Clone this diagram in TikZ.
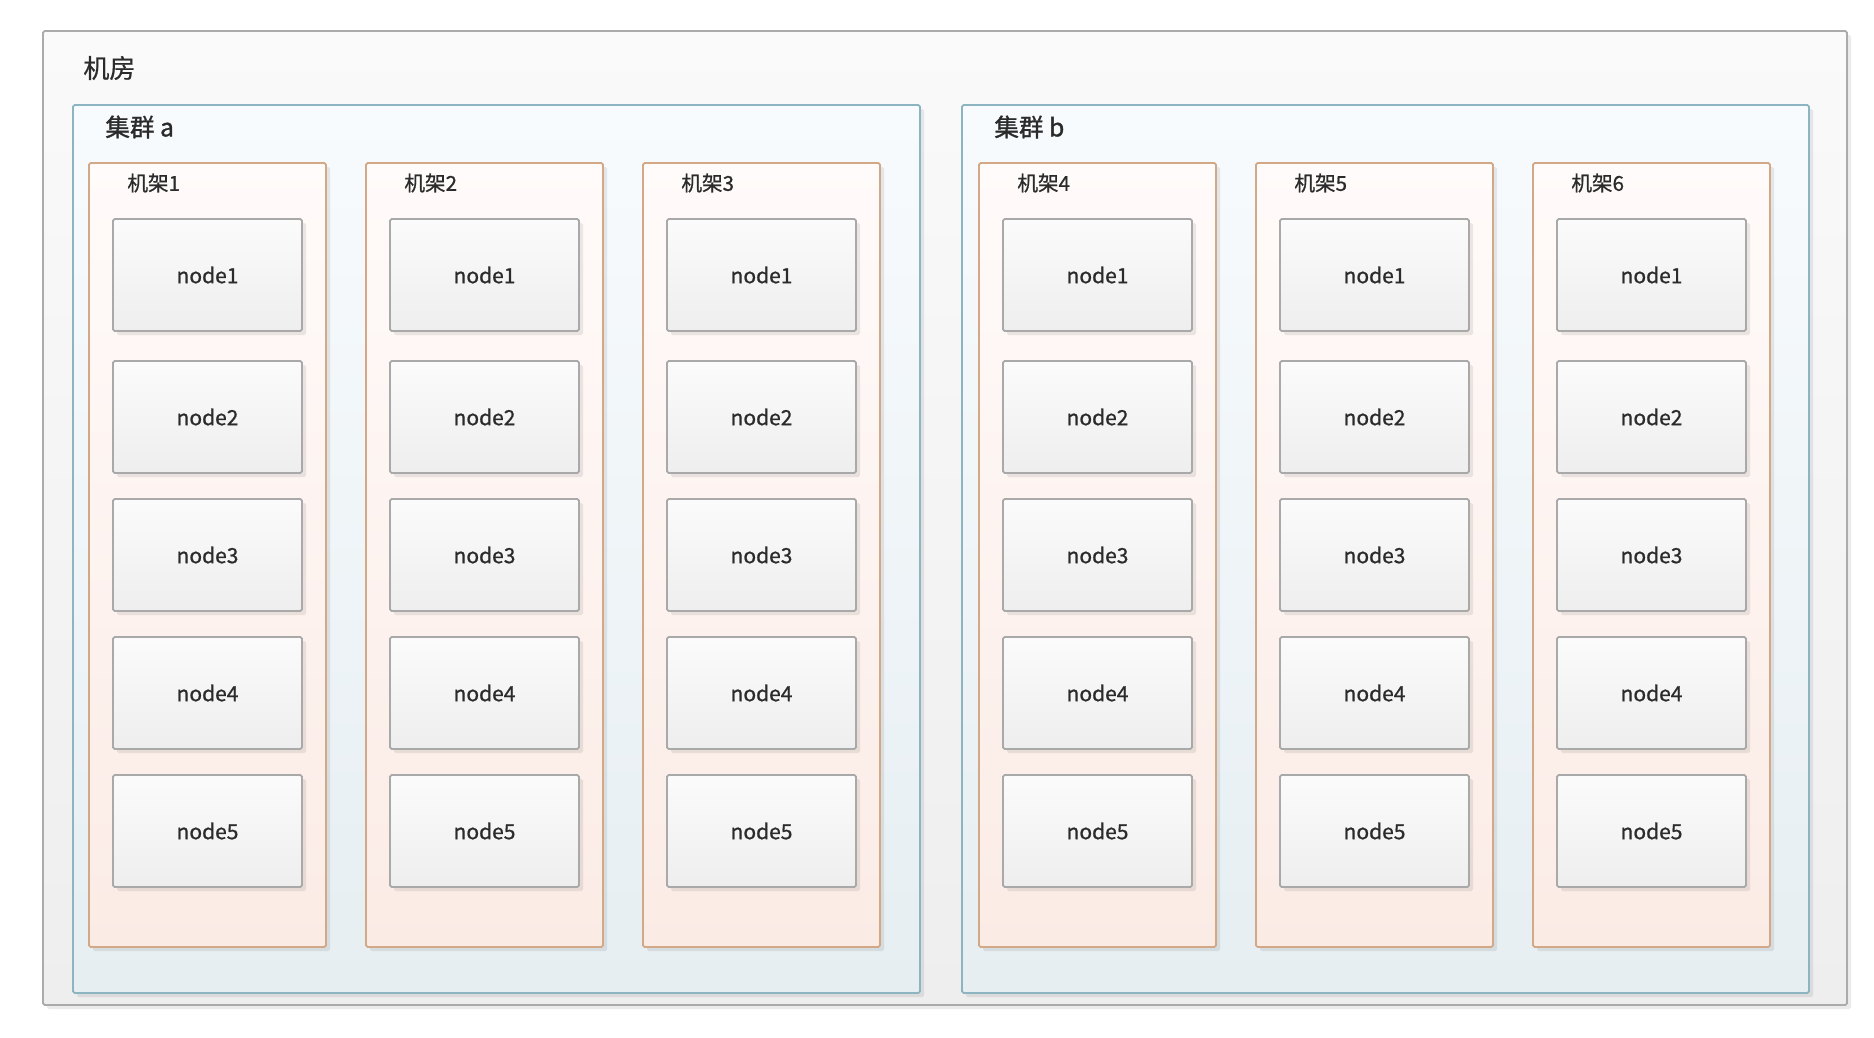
\documentclass[tikz,border=0pt]{standalone}
\usepackage{fontspec}
\usepackage{xcolor}
\newfontfamily\cjk[FakeBold=0.8]{Noto Sans CJK SC}
\newfontfamily\cjkhead[FakeBold=1.2]{Noto Sans CJK SC}
\newfontfamily\cjkroom[FakeBold=0.6]{Noto Sans CJK SC}
\usetikzlibrary{positioning,shadows}

\definecolor{roomtop}{HTML}{FAFAFA}
\definecolor{roombot}{HTML}{EEEEEE}
\definecolor{roomline}{HTML}{ABABAB}
\definecolor{clustertop}{HTML}{F8FBFD}
\definecolor{clusterbot}{HTML}{E6EEF2}
\definecolor{clusterline}{HTML}{8DB5C1}
\definecolor{racktop}{HTML}{FFFBFA}
\definecolor{rackbot}{HTML}{FBEBE5}
\definecolor{rackline}{HTML}{D3A886}
\definecolor{servertop}{HTML}{FBFBFB}
\definecolor{serverbot}{HTML}{EEEEEE}
\definecolor{serverline}{HTML}{A9A9A9}
\definecolor{textgray}{HTML}{2B2B2B}

\begin{document}
\begin{tikzpicture}
		[x=0.5pt,y=-0.5pt,
		box/.style={rectangle,inner sep=0pt,outer sep=0pt,rounded corners=0.8pt,
			drop shadow={shadow xshift=2pt,shadow yshift=-2pt,fill=black,opacity=0.08}},
		room/.style={box,draw=roomline,line width=0.9pt,top color=roomtop,bottom color=roombot,
			minimum width=902pt,minimum height=487pt,anchor=north west},
		cluster/.style={box,draw=clusterline,line width=0.9pt,top color=clustertop,bottom color=clusterbot,
			minimum width=423.5pt,minimum height=444pt},
		rack/.style={box,draw=rackline,line width=0.9pt,top color=racktop,bottom color=rackbot,
			minimum width=118.5pt,minimum height=392pt},
		server/.style={box,draw=serverline,line width=0.9pt,top color=servertop,bottom color=serverbot,
			minimum width=94.5pt,minimum height=56pt,font=\cjk\fontsize{10.5}{12}\selectfont,text=textgray},
		bigtitle/.style={inner sep=0pt,anchor=west,font=\cjkroom\fontsize{13}{15}\selectfont,text=textgray},
		clustertitle/.style={inner sep=0pt,anchor=west,font=\cjkhead\fontsize{12.3}{14}\selectfont,text=textgray},
		racktitle/.style={inner sep=0pt,anchor=west,font=\cjk\fontsize{10.3}{12}\selectfont,text=textgray}]
		\useasboundingbox (0,0) rectangle (1874,1038);

		% room and clusters
		\node [room] (room) at (43,31) {};
		\node [bigtitle] (lroom) at ([xshift=20pt,yshift=-18.5pt]room.north west) {机房};
		\node [cluster] (ca) [below right=37pt and 15pt of room.north west] {};
		\node [cluster] (cb) [right=21pt of ca] {};
		\node [clustertitle] (lca) at ([xshift=16pt,yshift=-11pt]ca.north west) {集群 a};
		\node [clustertitle] (lcb) at ([xshift=16pt,yshift=-11pt]cb.north west) {集群 b};

		% racks
		\node [rack] (rack1) [below right=29pt and 8pt of ca.north west] {};
		\node [rack] (rack2) [right=20pt of rack1] {};
		\node [rack] (rack3) [right=20pt of rack2] {};
		\node [rack] (rack4) [below right=29pt and 8.5pt of cb.north west] {};
		\node [rack] (rack5) [right=20pt of rack4] {};
		\node [rack] (rack6) [right=20pt of rack5] {};
		\node [racktitle] (l1) at ([xshift=19pt,yshift=-10pt]rack1.north west) {机架1};
		\node [racktitle] (l2) at ([xshift=19pt,yshift=-10pt]rack2.north west) {机架2};
		\node [racktitle] (l3) at ([xshift=19pt,yshift=-10pt]rack3.north west) {机架3};
		\node [racktitle] (l4) at ([xshift=19pt,yshift=-10pt]rack4.north west) {机架4};
		\node [racktitle] (l5) at ([xshift=19pt,yshift=-10pt]rack5.north west) {机架5};
		\node [racktitle] (l6) at ([xshift=19pt,yshift=-10pt]rack6.north west) {机架6};

		% nodes of rack 1
		\node [server] (r1n1) [below right=28pt and 12pt of rack1.north west] {node1};
		\node [server] (r1n2) [below=15pt of r1n1] {node2};
		\node [server] (r1n3) [below=13pt of r1n2] {node3};
		\node [server] (r1n4) [below=13pt of r1n3] {node4};
		\node [server] (r1n5) [below=13pt of r1n4] {node5};
		% nodes of rack 2
		\node [server] (r2n1) [below right=28pt and 12pt of rack2.north west] {node1};
		\node [server] (r2n2) [below=15pt of r2n1] {node2};
		\node [server] (r2n3) [below=13pt of r2n2] {node3};
		\node [server] (r2n4) [below=13pt of r2n3] {node4};
		\node [server] (r2n5) [below=13pt of r2n4] {node5};
		% nodes of rack 3
		\node [server] (r3n1) [below right=28pt and 12pt of rack3.north west] {node1};
		\node [server] (r3n2) [below=15pt of r3n1] {node2};
		\node [server] (r3n3) [below=13pt of r3n2] {node3};
		\node [server] (r3n4) [below=13pt of r3n3] {node4};
		\node [server] (r3n5) [below=13pt of r3n4] {node5};
		% nodes of rack 4
		\node [server] (r4n1) [below right=28pt and 12pt of rack4.north west] {node1};
		\node [server] (r4n2) [below=15pt of r4n1] {node2};
		\node [server] (r4n3) [below=13pt of r4n2] {node3};
		\node [server] (r4n4) [below=13pt of r4n3] {node4};
		\node [server] (r4n5) [below=13pt of r4n4] {node5};
		% nodes of rack 5
		\node [server] (r5n1) [below right=28pt and 12pt of rack5.north west] {node1};
		\node [server] (r5n2) [below=15pt of r5n1] {node2};
		\node [server] (r5n3) [below=13pt of r5n2] {node3};
		\node [server] (r5n4) [below=13pt of r5n3] {node4};
		\node [server] (r5n5) [below=13pt of r5n4] {node5};
		% nodes of rack 6
		\node [server] (r6n1) [below right=28pt and 12pt of rack6.north west] {node1};
		\node [server] (r6n2) [below=15pt of r6n1] {node2};
		\node [server] (r6n3) [below=13pt of r6n2] {node3};
		\node [server] (r6n4) [below=13pt of r6n3] {node4};
		\node [server] (r6n5) [below=13pt of r6n4] {node5};

	\end{tikzpicture}
\end{document}
